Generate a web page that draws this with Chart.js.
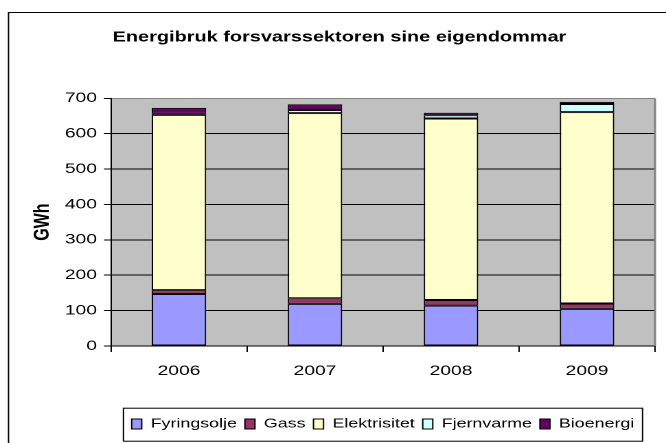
<!DOCTYPE html>
<html>
<head>
<meta charset="utf-8">
<script src="https://cdn.jsdelivr.net/npm/chart.js@4/dist/chart.umd.min.js"></script>
<style>
  html, body { margin: 0; padding: 0; background: #fff; overflow: hidden; }
  #wrap { width: 666px; height: 443px; overflow: hidden; }
  /* the original picture is stretched sideways, so the chart is drawn narrow and widened */
  #chart { display: block; transform: scaleX(1.3732); transform-origin: 0 0; }
</style>
</head>
<body>
<div id="wrap"><canvas id="chart" width="485" height="443"></canvas></div>
<script>
const years = ['2006', '2007', '2008', '2009'];
const fyringsolje = [147, 119, 114, 105];
const gass = [11, 16, 16, 15];
const elektrisitet = [495, 523, 513, 541];
const fjernvarme = [3, 9, 9, 23];
const bioenergi = [17, 16, 7, 6];

const seriesNames = ['Fyringsolje', 'Gass', 'Elektrisitet', 'Fjernvarme', 'Bioenergi'];
const seriesColors = ['#9999FF', '#993366', '#FFFFCC', '#CCFFFF', '#660066'];
const yMax = 700;
const yStep = 100;

Chart.defaults.font.family = '"Liberation Sans", Arial, sans-serif';
Chart.defaults.color = '#000';

const seriesData = [fyringsolje, gass, elektrisitet, fjernvarme, bioenergi];

// grey plot area, outer frame, legend frame
const frame = {
    id: 'frame',
    afterLayout(chart) {
        const lg = chart.legend;
        const ca = chart.chartArea;
        const dx = (ca.left + ca.right) / 2 - (lg.left + lg.right) / 2;
        lg.left += dx;
        lg.right += dx;
    },
    beforeDraw(chart) {
        const { ctx, chartArea: ca } = chart;
        ctx.save();
        ctx.fillStyle = '#fff';
        ctx.fillRect(0, 0, chart.width, chart.height);
        ctx.strokeStyle = '#000';
        ctx.lineWidth = 1;
        ctx.strokeRect(6.2, 12.5, chart.width + 20, chart.height + 20);
        ctx.fillStyle = '#C0C0C0';
        ctx.fillRect(ca.left, ca.top, ca.right - ca.left, ca.bottom - ca.top);
        ctx.restore();
    },
    beforeDatasetsDraw(chart) {
        const { ctx, chartArea: ca } = chart;
        ctx.save();
        ctx.strokeStyle = '#808080';
        ctx.lineWidth = 1.5;
        ctx.beginPath();
        ctx.moveTo(ca.right, ca.top);
        ctx.lineTo(ca.right, ca.bottom);
        ctx.stroke();
        ctx.restore();
    },
    afterDraw(chart) {
        const lg = chart.legend;
        const boxes = lg.legendHitBoxes;
        if (!boxes || !boxes.length) return;
        const first = boxes[0];
        const last = boxes[boxes.length - 1];
        const ctx = chart.ctx;
        ctx.save();
        ctx.strokeStyle = '#000';
        ctx.lineWidth = 1;
        const x0 = first.left - 6;
        const x1 = last.left + last.width + 6;
        ctx.strokeRect(x0, lg.top - 3.5, x1 - x0, 33);
        ctx.restore();
    }
};

const chart = new Chart(document.getElementById('chart'), {
    type: 'bar',
    data: {
        labels: years,
        datasets: seriesNames.map((name, i) => ({
            label: name,
            data: seriesData[i],
            backgroundColor: seriesColors[i],
            borderColor: '#000',
            borderWidth: 1,
            borderSkipped: false,
            barPercentage: 0.4,
            categoryPercentage: 1
        }))
    },
    options: {
        responsive: false,
        devicePixelRatio: 2,
        animation: false,
        layout: { padding: { left: 17.4, right: 8, top: 0, bottom: 2.5 } },
        plugins: {
            title: {
                display: true,
                text: 'Energibruk forsvarssektoren sine eigendommar',
                font: { size: 14.5, weight: 'bold' },
                color: '#000',
                padding: { top: 28.8, bottom: 52.1 }
            },
            legend: {
                position: 'bottom',
                labels: {
                    boxWidth: 7.3,
                    boxHeight: 10,
                    padding: 5.8,
                    font: { size: 13 },
                    color: '#000'
                }
            },
            tooltip: { enabled: false }
        },
        scales: {
            x: {
                stacked: true,
                grid: { drawOnChartArea: false, tickLength: 6, color: '#000', offset: true },
                border: { color: '#000', width: 1 },
                ticks: { padding: 10.6, font: { size: 14 }, color: '#000' },
                afterFit(scale) { scale.height = 65.7; }
            },
            y: {
                stacked: true,
                min: 0,
                max: yMax,
                ticks: { stepSize: yStep, padding: 5.1, font: { size: 14 }, color: '#000' },
                grid: {
                    tickLength: 5.1,
                    tickColor: '#000',
                    color: (c) => (c.tick && c.tick.value === yMax ? '#808080' : '#000')
                },
                border: { color: '#000', width: 1 },
                title: {
                    display: true,
                    text: 'GWh',
                    font: { size: 16, weight: 'bold' },
                    color: '#000',
                    padding: { top: 4.3, bottom: 0 }
                },
                afterFit(scale) { scale.width = 63.4; }
            }
        }
    },
    plugins: [frame]
});
</script>
</body>
</html>
